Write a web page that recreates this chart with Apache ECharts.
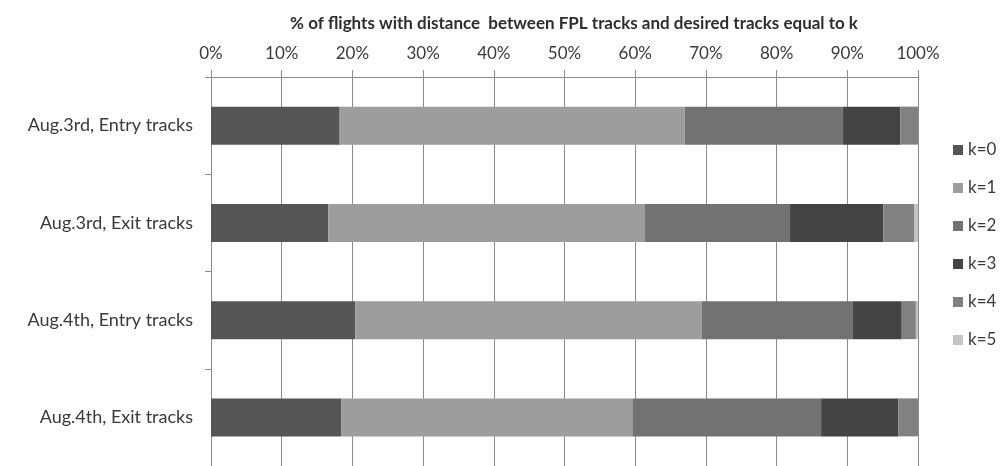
<!DOCTYPE html>
<html>
<head>
<meta charset="utf-8">
<script src="https://cdn.jsdelivr.net/npm/echarts@6/dist/echarts.min.js"></script>
<style>
  html, body { margin: 0; padding: 0; background: #fff; }
  #chart { width: 1001px; height: 466px; }
</style>
</head>
<body>
<div id="chart"></div>
<script>
// Flight groups, listed top to bottom
const categories = [
  'Aug.3rd, Entry tracks',
  'Aug.3rd, Exit tracks',
  'Aug.4th, Entry tracks',
  'Aug.4th, Exit tracks'
];

// Share of flights (%) whose FPL-to-desired track distance equals k
const k0 = [18.2, 16.6, 20.4, 18.4];
const k1 = [48.8, 44.7, 49.0, 41.2];
const k2 = [22.4, 20.6, 21.4, 26.7];
const k3 = [8.1, 13.2, 6.9, 10.9];
const k4 = [2.5, 4.4, 2.0, 2.8];
const k5 = [0.0, 0.5, 0.3, 0.0];

const seriesNames = ['k=0', 'k=1', 'k=2', 'k=3', 'k=4', 'k=5'];
const seriesData = [k0, k1, k2, k3, k4, k5];
const seriesColors = ['#555555', '#9d9d9d', '#727272', '#444444', '#818181', '#c4c4c4'];

const xTicks = [0, 10, 20, 30, 40, 50, 60, 70, 80, 90, 100];

const FONT = 'Lato';
const TEXT = '#3a3a3a';
const LINE = '#8c8c8c';

const chart = echarts.init(document.getElementById('chart'), null, { renderer: 'canvas' });

chart.setOption({
  animation: false,
  backgroundColor: '#ffffff',
  title: {
    text: '% of flights with distance  between FPL tracks and desired tracks equal to k',
    left: 569,
    top: 10,
    textAlign: 'center',
    textStyle: { fontFamily: FONT, fontWeight: 'bold', fontSize: 17, color: '#2e2e2e' }
  },
  legend: {
    orient: 'vertical',
    left: 948,
    top: 135,
    icon: 'rect',
    itemWidth: 10,
    itemHeight: 10,
    itemGap: 18,
    textStyle: { fontFamily: FONT, fontSize: 17, color: TEXT, lineHeight: 20 },
    data: seriesNames
  },
  grid: { left: 211, right: 83, top: 77, bottom: 0, containLabel: false },
  xAxis: {
    type: 'value',
    position: 'top',
    min: xTicks[0],
    max: xTicks[xTicks.length - 1],
    interval: xTicks[1] - xTicks[0],
    axisLine: { show: true, lineStyle: { color: LINE, width: 1 } },
    axisTick: { show: true, length: 7, lineStyle: { color: LINE } },
    axisLabel: {
      fontFamily: FONT, fontSize: 17, color: TEXT, margin: 15,
      formatter: v => v + '%'
    },
    splitLine: { show: true, lineStyle: { color: LINE, width: 1 } }
  },
  yAxis: {
    type: 'category',
    inverse: true,
    data: categories,
    axisLine: { show: true, lineStyle: { color: LINE, width: 1 } },
    axisTick: { show: true, length: 6, lineStyle: { color: LINE } },
    axisLabel: { fontFamily: FONT, fontSize: 18, color: TEXT, margin: 18 },
    splitLine: { show: false }
  },
  series: seriesNames.map((name, i) => ({
    name: name,
    type: 'bar',
    stack: 'k',
    barWidth: 38,
    data: seriesData[i],
    itemStyle: { color: seriesColors[i] }
  }))
});
</script>
</body>
</html>
